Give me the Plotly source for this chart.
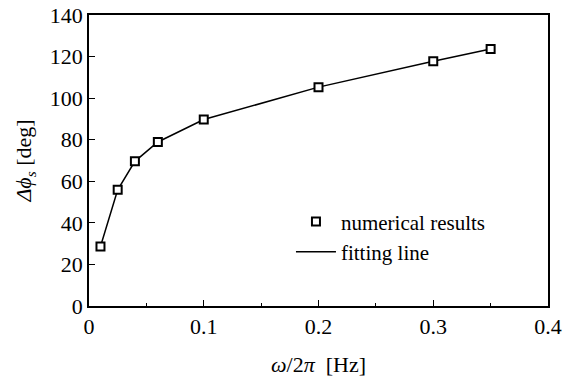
import plotly.graph_objects as go

freq = [0.01, 0.025, 0.04, 0.06, 0.1, 0.2, 0.3, 0.35]
dphi = [28.6, 55.9, 69.6, 78.9, 89.7, 105.3, 117.7, 123.6]

x_step = 0.1
x_minor_step = 0.05
y_step = 20

FONT = "Liberation Serif"

fig = go.Figure()
fig.add_trace(go.Scatter(x=freq, y=dphi, mode="lines", name="fitting line",
                         line=dict(color="black", width=1.5), legendrank=2))
fig.add_trace(go.Scatter(x=freq, y=dphi, mode="markers", name="numerical results",
                         marker=dict(symbol="square", size=8, color="white",
                                     line=dict(color="black", width=2)),
                         legendrank=1))

fig.update_layout(
    width=563, height=378,
    margin=dict(l=89, r=15, t=15, b=72),
    paper_bgcolor="white", plot_bgcolor="white",
    font=dict(family=FONT, size=22, color="black"),
    showlegend=True,
    legend=dict(x=0.44, y=0.36, xanchor="left", yanchor="top",
                bgcolor="rgba(0,0,0,0)", font=dict(size=21, family=FONT),
                itemwidth=40, tracegroupgap=0),
    xaxis=dict(range=[0, 0.4], tickmode="linear", tick0=0, dtick=x_step, automargin=False,
               ticks="inside", ticklen=6, tickwidth=1.3, tickcolor="black",
               showline=True, linecolor="black", linewidth=1.5, mirror=True,
               showgrid=False, zeroline=False,
               tickfont=dict(family=FONT, size=22),
               minor=dict(tick0=0, dtick=x_minor_step, ticks="inside", ticklen=3,
                          tickwidth=1, tickcolor="black", showgrid=False),
               title=dict(text="<i>ω</i>/2<i>π</i>  [Hz]", font=dict(size=22, family=FONT), standoff=18)),
    yaxis=dict(range=[0, 140], tickmode="linear", tick0=0, dtick=y_step, automargin=False,
               ticks="inside", ticklen=6, tickwidth=1.3, tickcolor="black",
               showline=True, linecolor="black", linewidth=1.5, mirror=True,
               showgrid=False, zeroline=False,
               tickfont=dict(family=FONT, size=22),
               title=dict(text="<i>Δϕ</i><sub><i>s</i></sub> [deg]", font=dict(size=22, family=FONT), standoff=12)),
)

fig.write_html("out.html", config={"displayModeBar": False},
               post_script="document.body.style.margin='0';document.body.style.padding='0';")
